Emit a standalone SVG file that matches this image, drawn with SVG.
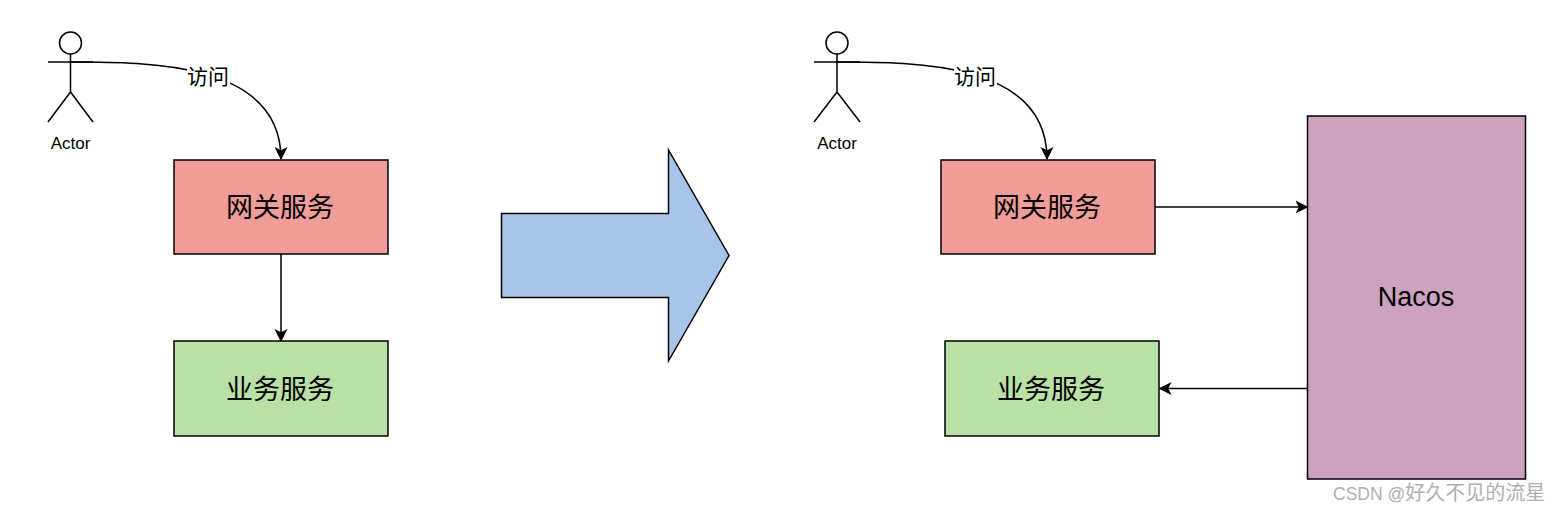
<svg xmlns="http://www.w3.org/2000/svg" width="1560" height="512" viewBox="0 0 1560 512">
<style>
text{font-family:"Liberation Sans","Noto Sans CJK SC",sans-serif;fill:#000;text-anchor:middle}
.s{stroke:#000;stroke-width:1.5;fill:none}
.big{font-size:27px}
.act{font-size:17px}
.lab{font-size:21px}
.r{fill:#f19c99}.g{fill:#b9e0a5}
</style>
<defs><marker id="a" markerUnits="userSpaceOnUse" markerWidth="15" markerHeight="15" refX="12" refY="7" orient="auto"><path d="M0 0.500L13 7L0 13.500L3.200 7Z" fill="#000"/></marker></defs>
<rect width="1560" height="512" fill="#fff"/>
<g id="connectors">
<path class="s" d="M70 62C150 62 281 62 281 159" marker-end="url(#a)"/>
<path class="s" d="M281 254V341" marker-end="url(#a)"/>
<path class="s" d="M837 62C917 62 1047 62 1047 159" marker-end="url(#a)"/>
<path class="s" d="M1155 207H1307.500" marker-end="url(#a)"/>
<path class="s" d="M1307 388.500H1159.500" marker-end="url(#a)"/>
<rect x="187" y="66" width="43" height="22" fill="#fff"/>
<text class="lab" x="208" y="84">访问</text>
<rect x="954" y="66" width="43" height="22" fill="#fff"/>
<text class="lab" x="975" y="84">访问</text>
</g>
<g id="actor1"><circle class="s" cx="70.500" cy="43" r="11"/><path class="s" d="M70.500 54V92M48 62H93M70.500 92L48 122M70.500 92L93 122"/><text class="act" x="70.500" y="148.500">Actor</text></g>
<g id="gateway1"><rect class="s r" x="174" y="160" width="214" height="94"/><text class="big" x="280" y="217">网关服务</text></g>
<g id="business1"><rect class="s g" x="174" y="341" width="214" height="95"/><text class="big" x="280" y="399">业务服务</text></g>
<g id="bigarrow"><path d="M501.500 213.500H668.500V150L729 255.500L668.500 361V297.500H501.500Z" fill="#a9c4eb" stroke="#000" stroke-width="1.500"/></g>
<g id="actor2"><circle class="s" cx="837" cy="43" r="11"/><path class="s" d="M837 54V92M814 62H860M837 92L814 122M837 92L860 122"/><text class="act" x="837" y="148.500">Actor</text></g>
<g id="gateway2"><rect class="s r" x="941" y="160" width="214" height="94"/><text class="big" x="1047" y="217">网关服务</text></g>
<g id="business2"><rect class="s g" x="945" y="341" width="214" height="95"/><text class="big" x="1051" y="399">业务服务</text></g>
<g id="nacos"><rect class="s" x="1307.500" y="116" width="218" height="363" style="fill:#cda2be"/><text class="big" x="1416" y="306">Nacos</text></g>
<text x="1333" y="500" style="fill:#b0b0b0;text-anchor:start"><tspan font-size="17.500">CSDN @</tspan><tspan font-size="20">好久不见的流星</tspan></text>
</svg>
